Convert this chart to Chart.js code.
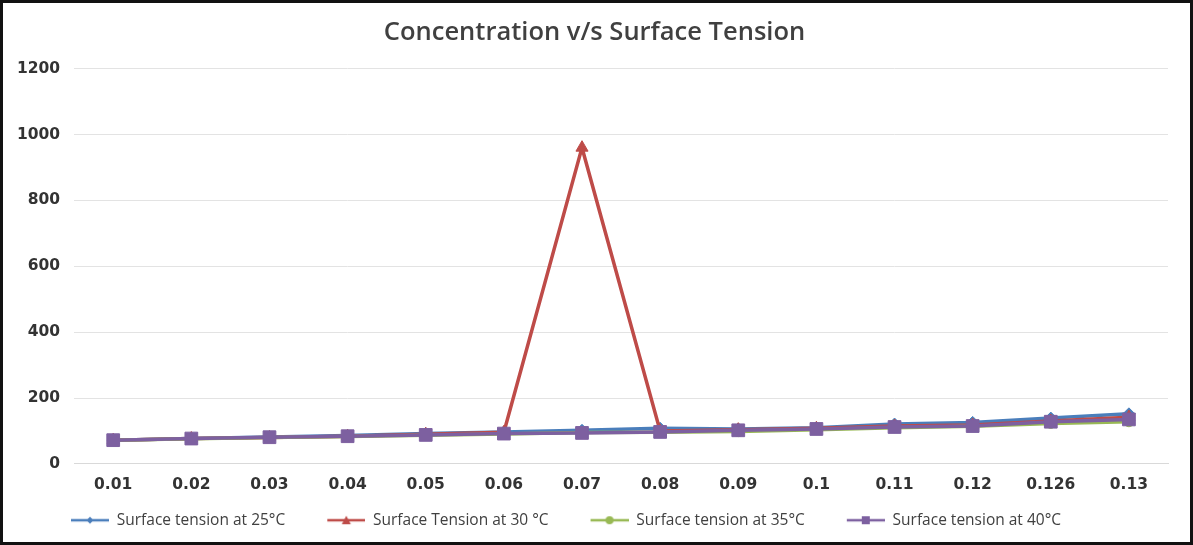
<!DOCTYPE html>
<html>
<head>
<meta charset="utf-8">
<script src="https://cdn.jsdelivr.net/npm/chart.js@4/dist/chart.umd.min.js"></script>
<style>
  body { margin: 0; background: #fff; }
  #frame { width: 1193px; height: 545px; box-sizing: border-box; border: 3px solid #111; background: #fff; }
  #wrap { position: relative; width: 1187px; height: 539px; }
</style>
</head>
<body>
<div id="frame"><div id="wrap"><canvas id="chart"></canvas></div></div>
<script>
// concentration categories
const concentration = ['0.01', '0.02', '0.03', '0.04', '0.05', '0.06', '0.07', '0.08', '0.09', '0.1', '0.11', '0.12', '0.126', '0.13'];

// surface tension readings
const tension25 = [72, 77, 82, 86, 92, 97, 102, 108, 106, 110, 121, 126, 139, 152];
const tension30 = [72, 77, 80, 84, 90, 96, 960, 100, 104, 108, 115, 118, 130, 142];
const tension35 = [72, 76, 80, 83, 87, 91, 95, 96, 98, 104, 110, 114, 123, 128];
const tension40 = [72, 77, 81, 84, 88, 92, 94, 97, 102, 106, 112, 115, 128, 135];

const yTicks = [0, 200, 400, 600, 800, 1000, 1200];

const FONT = '"Open Sans", sans-serif';
const TICKFONT = '"DejaVu Sans", sans-serif';

// legend swatch: line with the marker in the middle, like Excel.
// blank space on the left of the line spaces the items out
const GAP = 36, SW = 38;
function legendIcon(color, style) {
  const c = document.createElement('canvas');
  c.width = GAP + SW; c.height = 12;
  const ctx = c.getContext('2d');
  const m = GAP + SW / 2;
  ctx.strokeStyle = color;
  ctx.lineWidth = 2.5;
  ctx.beginPath(); ctx.moveTo(GAP, 6); ctx.lineTo(GAP + SW, 6); ctx.stroke();
  ctx.fillStyle = color;
  ctx.beginPath();
  if (style === 'rectRot') {
    ctx.moveTo(m, 2.5); ctx.lineTo(m + 3.5, 6); ctx.lineTo(m, 9.5); ctx.lineTo(m - 3.5, 6);
  } else if (style === 'triangle') {
    ctx.moveTo(m, 1.5); ctx.lineTo(m + 4.5, 10); ctx.lineTo(m - 4.5, 10);
  } else if (style === 'circle') {
    ctx.arc(m, 6, 4, 0, Math.PI * 2);
  } else {
    ctx.rect(m - 4, 2, 8, 8);
  }
  ctx.closePath(); ctx.fill();
  return c;
}

const series = [
  { label: 'Surface tension at 25°C', data: tension25, color: '#4a7ebb', marker: 'rectRot', r: 6, order: 4 },
  { label: 'Surface Tension at 30 °C', data: tension30, color: '#be4b48', marker: 'triangle', r: 7, order: 3 },
  { label: 'Surface tension at 35°C', data: tension35, color: '#98b954', marker: 'circle', r: 5, order: 2 },
  { label: 'Surface tension at 40°C', data: tension40, color: '#7d60a0', marker: 'rect', r: 9, order: 1 }
];

// nudge title and legend sideways to where Excel put them
const nudge = {
  id: 'nudge',
  afterLayout(chart) {
    chart.legend.left += 26;
    chart.titleBlock.left += 9;
    chart.titleBlock.right += 9;
  }
};

new Chart(document.getElementById('chart'), {
  type: 'line',
  data: {
    labels: concentration,
    datasets: series.map(s => ({
      label: s.label,
      data: s.data,
      order: s.order,
      borderColor: s.color,
      backgroundColor: s.color,
      borderWidth: 3.5,
      pointStyle: s.marker,
      pointRadius: s.r,
      pointBorderWidth: 1,
      tension: 0,
      legendIcon: legendIcon(s.color, s.marker)
    }))
  },
  plugins: [nudge],
  options: {
    responsive: true,
    maintainAspectRatio: false,
    animation: false,
    layout: { padding: { left: 0, right: 22, top: 6, bottom: 4 } },
    plugins: {
      title: {
        display: true,
        text: 'Concentration v/s Surface Tension',
        color: '#404040',
        font: { family: FONT, size: 25.5, weight: '600' },
        padding: { top: 8, bottom: 21 }
      },
      legend: {
        position: 'bottom',
        align: 'start',
        labels: {
          usePointStyle: true,
          pointStyleWidth: GAP + SW,
          color: '#404040',
          font: { family: FONT, size: 15.5 },
          padding: 6,
          generateLabels: chart => chart.data.datasets.map((d, i) => ({
            text: d.label,
            pointStyle: d.legendIcon,
            fontColor: '#404040',
            strokeStyle: d.borderColor,
            fillStyle: d.borderColor,
            lineWidth: 0,
            datasetIndex: i,
            hidden: false
          }))
        }
      },
      tooltip: { enabled: false }
    },
    scales: {
      x: {
        offset: true,
        grid: { display: false, drawTicks: false },
        border: { color: '#d9d9d9', width: 1 },
        ticks: { color: '#333', font: { family: TICKFONT, size: 15.5, weight: 'bold' }, padding: 12 }
      },
      y: {
        min: 0,
        max: 1200,
        afterBuildTicks: axis => { axis.ticks = yTicks.map(v => ({ value: v })); },
        grid: { color: '#e3e3e3', lineWidth: 1, drawTicks: false },
        border: { display: false },
        ticks: {
          color: '#333',
          font: { family: TICKFONT, size: 15.5, weight: 'bold' },
          padding: 14,
          callback: v => String(v)
        }
      }
    }
  }
});
</script>
</body>
</html>
